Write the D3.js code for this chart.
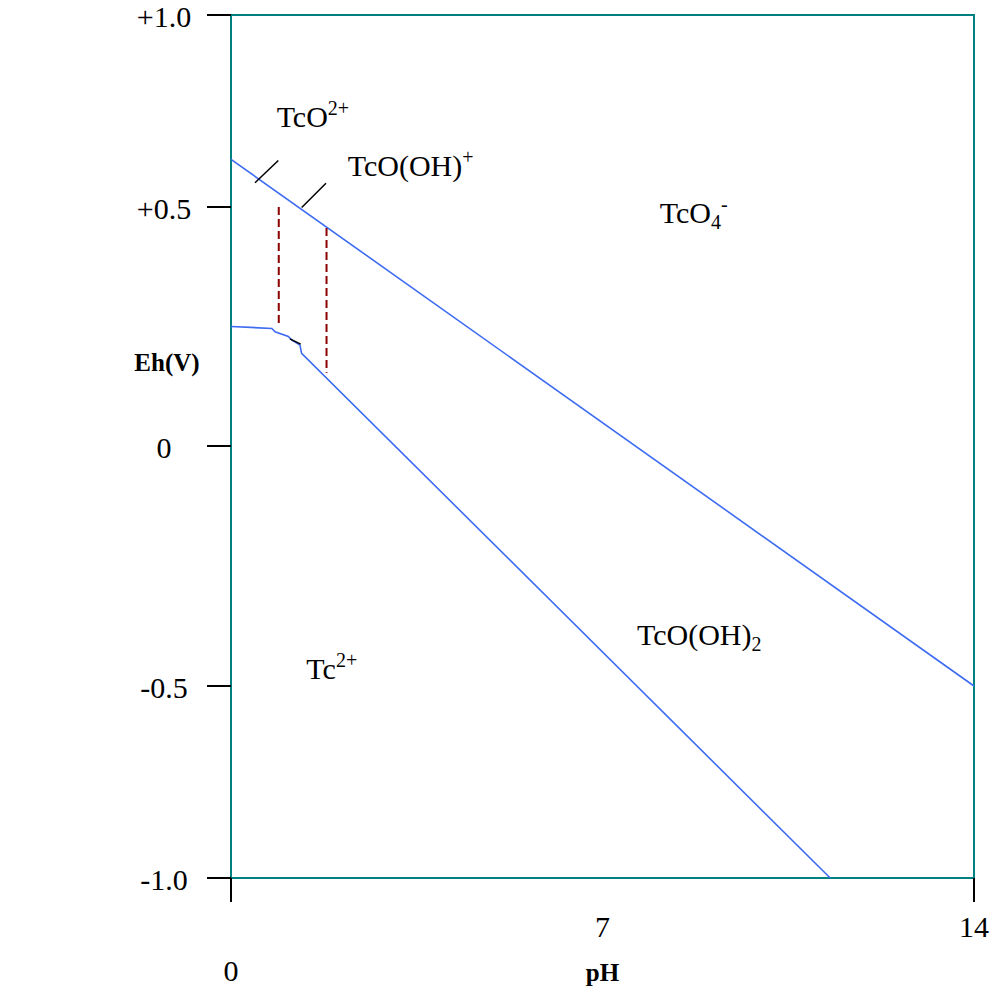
<!DOCTYPE html>
<html><head><meta charset="utf-8">
<script src="https://cdn.jsdelivr.net/npm/d3@7"></script>
<style>body{margin:0;background:#fff}svg{display:block}text{font-family:"Liberation Serif","Times New Roman",serif;fill:#000}</style>
</head><body>
<script>
// ---- data ----
const yTicks = [1, 0.5, 0, -0.5, -1];
const yTickLabels = ["+1.0", "+0.5", "0", "-0.5", "-1.0"];
const xTicks = [0, 14];
const xTickLabels = [{v: 0, t: "0"}, {v: 7, t: "7"}, {v: 14, t: "14"}];
// TcO4- / lower-valent boundary
const upperLine = [[0, 0.624], [14, -0.5]];
// Tc2+ / TcO(OH)2 boundary
const lowerLine = [[0, 0.25], [0.77, 0.246], [0.83, 0.239], [1.08, 0.229], [1.14, 0.222], [1.30, 0.211], [1.33, 0.194], [11.29, -1.0]];
const dashedLines = [[[0.90, 0.50], [0.90, 0.253]], [[1.80, 0.456], [1.80, 0.153]]];
const leaderLines = [[[0.452, 0.563], [0.891, 0.621]], [[1.332, 0.499], [1.790, 0.562]], [[1.112, 0.224], [1.313, 0.213]]];
const regionLabels = [
  {pH: 0.86, eh: 0.709, base: "TcO", sup: "2+", sub: ""},
  {pH: 2.20, eh: 0.581, base: "TcO(OH)", sup: "+", sub: ""},
  {pH: 8.08, eh: 0.466, base: "TcO", sup: "-", sub: "4"},
  {pH: 7.65, eh: -0.415, base: "TcO(OH)", sup: "", sub: "2"},
  {pH: 1.42, eh: -0.485, base: "Tc", sup: "2+", sub: ""}
];

const W = 996, H = 1001;
const svg = d3.select("body").append("svg").attr("width", W).attr("height", H);
const x = d3.scaleLinear().domain([0, 14]).range([231, 974]);
const y = d3.scaleLinear().domain([-1, -0.5, 0, 0.5, 1]).range([878, 686, 446, 207, 15]);
const teal = "#008080", blue = "#3d6cf2", maroon = "#8b0000";
const line = d3.line().x(d => x(d[0])).y(d => y(d[1]));

// frame
svg.append("rect").attr("x", x(0)).attr("y", y(1)).attr("width", x(14) - x(0)).attr("height", y(-1) - y(1))
  .attr("fill", "none").attr("stroke", teal).attr("stroke-width", 2);

// y ticks
svg.selectAll(".yt").data(yTicks).enter().append("line")
  .attr("x1", x(0) - 24).attr("x2", x(0)).attr("y1", d => y(d)).attr("y2", d => y(d))
  .attr("stroke", "#000").attr("stroke-width", 2);
svg.selectAll(".ytl").data(yTicks).enter().append("text")
  .attr("x", 164).attr("y", d => y(d) + 12).attr("text-anchor", "middle")
  .attr("font-size", 30).text((d, i) => yTickLabels[i]);

// x ticks
svg.selectAll(".xt").data(xTicks).enter().append("line")
  .attr("x1", d => x(d)).attr("x2", d => x(d)).attr("y1", y(-1)).attr("y2", y(-1) + 24)
  .attr("stroke", "#000").attr("stroke-width", 2);
svg.selectAll(".xtl").data(xTickLabels).enter().append("text")
  .attr("x", d => x(d.v)).attr("y", d => d.v === 0 ? 981 : 937).attr("text-anchor", "middle")
  .attr("font-size", 30).text(d => d.t);

// axis titles
svg.append("text").attr("x", 167).attr("y", 371).attr("text-anchor", "middle").attr("font-size", 25)
  .attr("font-weight", "bold").text("Eh(V)");
svg.append("text").attr("x", x(7)).attr("y", 981).attr("text-anchor", "middle").attr("font-size", 25)
  .attr("font-weight", "bold").text("pH");

// boundary lines
svg.append("path").attr("d", line(upperLine)).attr("fill", "none").attr("stroke", blue).attr("stroke-width", 1.6);
svg.append("path").attr("d", line(lowerLine)).attr("fill", "none").attr("stroke", blue).attr("stroke-width", 1.6);
svg.selectAll(".dl").data(dashedLines).enter().append("path").attr("d", line)
  .attr("fill", "none").attr("stroke", maroon).attr("stroke-width", 2).attr("stroke-dasharray", "8,4");
svg.selectAll(".ll").data(leaderLines).enter().append("path").attr("d", line)
  .attr("fill", "none").attr("stroke", "#000").attr("stroke-width", 1.5);

// region labels
const rl = svg.selectAll(".rl").data(regionLabels).enter().append("text")
  .attr("x", d => x(d.pH)).attr("y", d => y(d.eh)).attr("font-size", 30);
rl.append("tspan").text(d => d.base);
rl.filter(d => d.sub).append("tspan").attr("font-size", 20).attr("dy", 6).text(d => d.sub);
rl.filter(d => d.sup).append("tspan").attr("font-size", 20).attr("dy", d => d.sub ? -18 : -12).text(d => d.sup);
</script>
</body></html>
